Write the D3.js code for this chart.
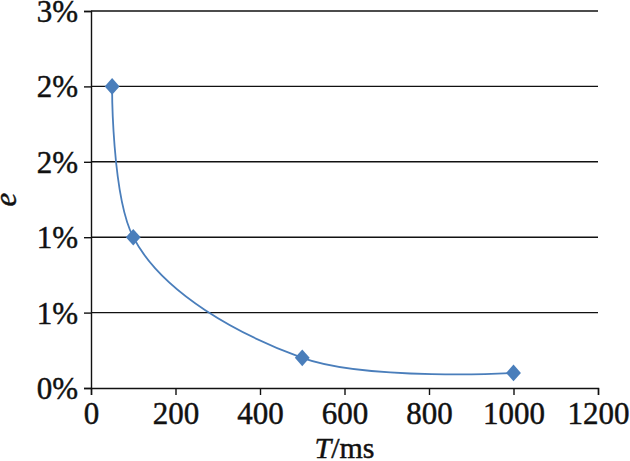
<!DOCTYPE html>
<html>
<head>
<meta charset="utf-8">
<script src="https://cdn.jsdelivr.net/npm/d3@7"></script>
<style>
  body { margin: 0; background: #fff; }
  text { font-family: "Liberation Serif", "Times New Roman", serif; fill: #111; stroke: #111; stroke-width: 0.45px; }
</style>
</head>
<body>
<div id="graf"></div>
<script>
// data
var tValues = [50, 100, 500, 1000]          // T / ms
var eValues = [0.020, 0.010, 0.002, 0.001]  // e
var xTicks = [0, 200, 400, 600, 800, 1000, 1200]
var yTicks = [0, 0.005, 0.010, 0.015, 0.020, 0.025]

var W = 630, H = 461
var m = {left: 91, right: 32, top: 11, bottom: 73}

var x = d3.scaleLinear().domain([0, 1200]).range([m.left, W - m.right])
var y = d3.scaleLinear().domain([0, 0.025]).range([H - m.bottom, m.top])

var svg = d3.select('#graf')
            .append('svg')
            .attr('width', W)
            .attr('height', H)

// horizontal grid
svg.append('g')
  .selectAll('line')
  .data(yTicks.slice(1))
  .enter().append('line')
  .attr('x1', m.left).attr('x2', W - m.right)
  .attr('y1', d => y(d)).attr('y2', d => y(d))
  .attr('stroke', '#111').attr('stroke-width', 1.4)

var fmt = d3.format('.0%')

// y axis
var gy = svg.append('g')
  .attr('transform', 'translate(' + m.left + ',0)')
  .call(d3.axisLeft(y).tickValues(yTicks).tickFormat(fmt).tickSize(7).tickPadding(6))
gy.select('.domain').attr('stroke', '#111').attr('stroke-width', 1.4)
gy.selectAll('.tick line').attr('stroke', '#111').attr('stroke-width', 1.4)
gy.selectAll('text').style('font-size', '31px').attr('dy', '0.34em')

// x axis
var gx = svg.append('g')
  .attr('transform', 'translate(0,' + (H - m.bottom) + ')')
  .call(d3.axisBottom(x).tickValues(xTicks).tickFormat(d3.format('d')).tickSize(7).tickPadding(7))
gx.select('.domain').attr('stroke', '#111').attr('stroke-width', 1.4)
gx.selectAll('.tick line').attr('stroke', '#111').attr('stroke-width', 1.4)
gx.selectAll('text').style('font-size', '31px')

// axis titles
svg.append('text')
  .attr('transform', 'translate(16,' + ((m.top + H - m.bottom) / 2) + ') rotate(-90)')
  .attr('text-anchor', 'middle')
  .style('font-size', '31px')
  .style('font-style', 'italic')
  .text('e')

var xt = svg.append('text')
  .attr('x', (m.left + W - m.right) / 2)
  .attr('y', H - 3)
  .attr('text-anchor', 'middle')
  .style('font-size', '30px')
xt.append('tspan').style('font-style', 'italic').text('T')
xt.append('tspan').text('/ms')

// smoothed line
var pts = tValues.map((t, i) => [t, eValues[i]])
var line = d3.line()
  .x(d => x(d[0]))
  .y(d => y(d[1]))
  .curve(d3.curveCatmullRom.alpha(1))

svg.append('path')
  .datum(pts)
  .attr('d', line)
  .attr('fill', 'none')
  .attr('stroke', '#4a7ebb')
  .attr('stroke-width', 1.8)

// diamond markers
svg.append('g')
  .selectAll('path')
  .data(pts)
  .enter().append('path')
  .attr('transform', d => 'translate(' + x(d[0]) + ',' + y(d[1]) + ') scale(1,1.12)')
  .attr('d', d3.symbol().type(d3.symbolDiamond2).size(140))
  .attr('fill', '#4a7ebb')
</script>
</body>
</html>
